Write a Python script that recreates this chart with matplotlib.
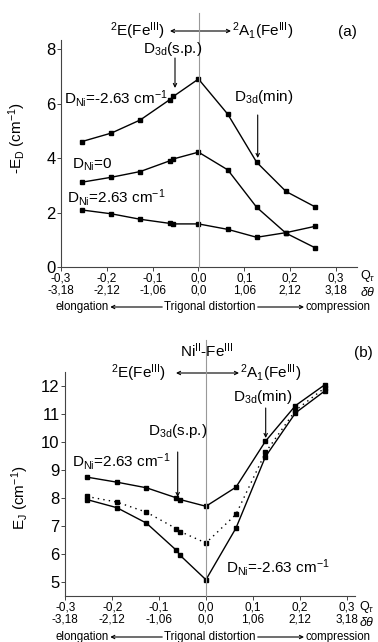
import numpy as np
import matplotlib
matplotlib.use('Agg')
from matplotlib import pyplot as plt

plt.rcParams['font.family'] = ['Liberation Sans', 'DejaVu Sans']
plt.rcParams['mathtext.fontset'] = 'custom'
plt.rcParams['mathtext.rm'] = 'Liberation Sans'
plt.rcParams['mathtext.it'] = 'Liberation Sans:italic'

# trigonal distortion coordinate Q_tau
q = [-0.254, -0.190, -0.127, -0.063, -0.055, 0.0, 0.064, 0.127, 0.191, 0.254]

# panel (a): -E_D (cm^-1)
ed_neg = [4.61, 4.92, 5.40, 6.14, 6.26, 6.90, 5.61, 3.85, 2.78, 2.22]
ed_zero = [3.12, 3.30, 3.51, 3.90, 3.97, 4.22, 3.57, 2.20, 1.25, 0.72]
ed_pos = [2.10, 1.96, 1.76, 1.61, 1.59, 1.59, 1.39, 1.10, 1.27, 1.50]

# panel (b): E_J (cm^-1)
ej_pos = [8.74, 8.56, 8.36, 8.00, 7.94, 7.70, 8.38, 10.02, 11.29, 12.04]
ej_zero = [8.05, 7.85, 7.49, 6.90, 6.80, 6.39, 7.41, 9.62, 11.12, 11.93]
ej_neg = [7.94, 7.65, 7.10, 6.13, 5.95, 5.08, 6.92, 9.47, 11.03, 11.82]

xticks = [-0.3, -0.2, -0.1, 0.0, 0.1, 0.2, 0.3]
q_labels = ['-0,3', '-0,2', '-0,1', '0,0', '0,1', '0,2', '0,3']
theta_labels = ['-3,18', '-2,12', '-1,06', '0,0', '1,06', '2,12', '3,18']

W, H = 378, 642
fig = plt.figure(figsize=(W / 100, H / 100), dpi=100)
FS = 11


def fx(x):
    return x / W


def fy(y):
    return 1 - y / H


def style_axes(ax):
    ax.spines['top'].set_visible(False)
    ax.spines['right'].set_visible(False)
    ax.spines['left'].set_color('#444444')
    ax.spines['bottom'].set_color('#444444')
    ax.tick_params(direction='out', length=3, width=0.7, color='#444444')
    ax.tick_params(axis='y', labelsize=12, pad=1)
    ax.tick_params(axis='x', labelsize=8.5, pad=1)
    ax.set_xticks(xticks)
    ax.set_xticklabels([a + '\n' + b for a, b in zip(q_labels, theta_labels)],
                       linespacing=1.0)


def arrow(x0, y0, x1, y1, style='->'):
    fig.add_artist(matplotlib.patches.FancyArrowPatch(
        (fx(x0), fy(y0)), (fx(x1), fy(y1)), transform=fig.transFigure,
        arrowstyle=style, mutation_scale=6, lw=0.8, color='black',
        shrinkA=0, shrinkB=0))


def put(x, y, s, size=FS, ha='left', va='center', rot=0):
    return fig.text(fx(x), fy(y), s, fontsize=size, ha=ha, va=va,
                    rotation=rot)


def bottom_caption(y):
    # place the words, then fit the arrows into the gaps between them
    t1 = put(55, y, 'elongation', size=8.3)
    t2 = put(210, y, 'Trigonal distortion', size=8.3, ha='center')
    t3 = put(371, y, 'compression', size=8.3, ha='right')
    r = fig.canvas.get_renderer()
    e1 = t1.get_window_extent(r)
    e2 = t2.get_window_extent(r)
    e3 = t3.get_window_extent(r)
    arrow(e2.x0 - 2, y, e1.x1 + 2, y)
    arrow(e2.x1 + 2, y, e3.x0 - 2, y)


mk = dict(color='black', marker='s', markersize=3, lw=1.0)

# ---------------- panel (a) ----------------
ax1 = fig.add_axes([fx(61), fy(267.3), fx(357 - 61), (267.3 - 40) / H])
ax1.plot(q, ed_neg, **mk)
ax1.plot(q, ed_zero, **mk)
ax1.plot(q, ed_pos, **mk)
ax1.set_xlim(-0.3, 0.346)
ax1.set_ylim(0, 8.33)
ax1.set_yticks([0, 2, 4, 6, 8])
style_axes(ax1)
put(17, 138, '-E$_{\\rm D}$ (cm$^{-1}$)', size=FS, ha='center', rot=90)
fig.add_artist(plt.Line2D([fx(198.7), fx(198.7)], [fy(13), fy(267.3)],
                          color='#999999', lw=0.8))

put(110, 31, '$^{2}$E(Fe$^{\\rm III}$)')
arrow(170, 31, 231, 31, style='<->')
put(232, 31, '$^{2}$A$_{1}$(Fe$^{\\rm III}$)')
put(347, 32, '(a)', ha='center')
put(143, 49, 'D$_{\\rm 3d}$(s.p.)')
arrow(175, 58, 175, 88)
put(64, 98, 'D$_{\\rm Ni}$=-2.63 cm$^{-1}$')
put(234, 97, 'D$_{\\rm 3d}$(min)')
arrow(257.7, 115, 257.7, 158)
put(72, 165, 'D$_{\\rm Ni}$=0')
put(67, 197, 'D$_{\\rm Ni}$=2.63 cm$^{-1}$')
put(360, 276, 'Q$_{\\tau}$', size=9)
put(360, 292, '$\\delta\\theta$', size=9)
bottom_caption(307)

# ---------------- panel (b) ----------------
ax2 = fig.add_axes([fx(65.3), fy(596), fx(355 - 65.3), (596 - 371.7) / H])
ax2.plot(q, ej_pos, **mk)
ax2.plot(q, ej_zero, color='black', marker='s', markersize=3, lw=1.0,
         ls=(0, (1, 3)))
ax2.plot(q, ej_neg, **mk)
ax2.set_xlim(-0.3, 0.318)
ax2.set_ylim(4.5, 12.5)
ax2.set_yticks(range(5, 13))
style_axes(ax2)
put(20, 498, 'E$_{\\rm J}$ (cm$^{-1}$)', size=FS, ha='center', rot=90)
fig.add_artist(plt.Line2D([fx(206), fx(206)], [fy(340), fy(596)],
                          color='#999999', lw=0.8))

put(207, 351, 'Ni$^{\\rm II}$-Fe$^{\\rm III}$', ha='center')
put(363, 353, '(b)', ha='center')
put(111, 373, '$^{2}$E(Fe$^{\\rm III}$)')
arrow(176, 373, 239, 373, style='<->')
put(240, 373, '$^{2}$A$_{1}$(Fe$^{\\rm III}$)')
put(233, 397, 'D$_{\\rm 3d}$(min)')
arrow(265.7, 408, 265.7, 438)
put(148, 431, 'D$_{\\rm 3d}$(s.p.)')
arrow(177.7, 452, 177.7, 497)
put(72, 461, 'D$_{\\rm Ni}$=2.63 cm$^{-1}$')
put(226, 568, 'D$_{\\rm Ni}$=-2.63 cm$^{-1}$')
put(359, 607, 'Q$_{\\tau}$', size=9)
put(359, 622, '$\\delta\\theta$', size=9)
bottom_caption(637)

fig.savefig('out.png', dpi=100)
